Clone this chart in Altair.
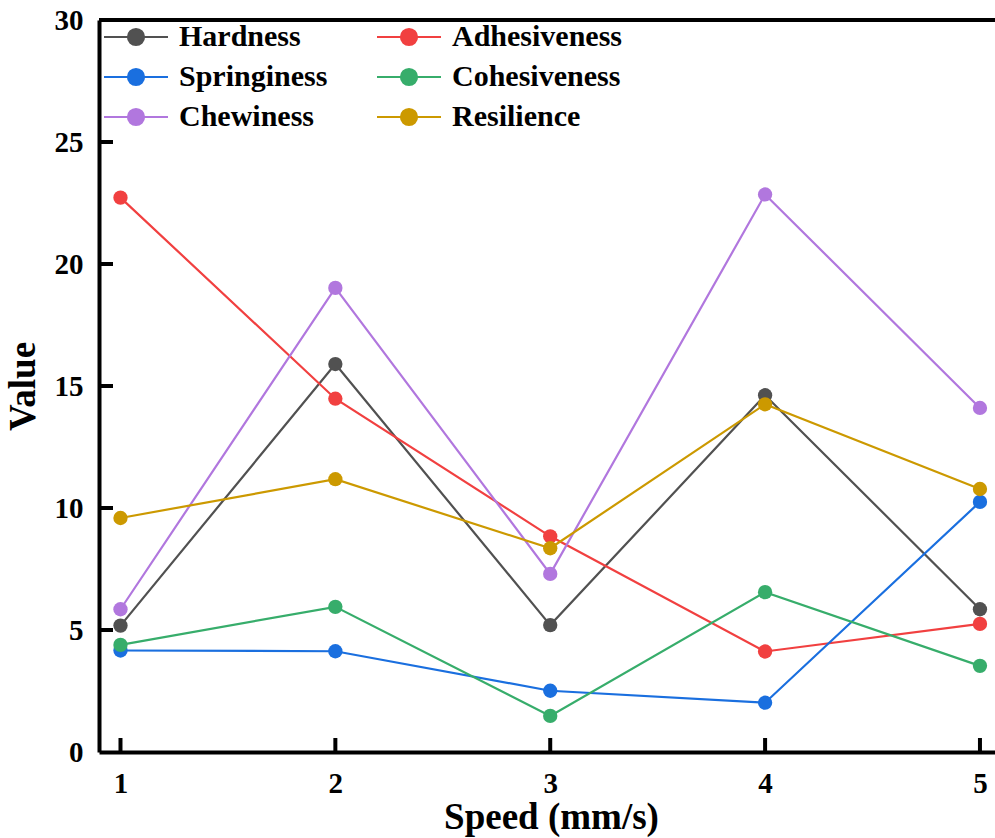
import altair as alt
import pandas as pd

speeds = [1, 2, 3, 4, 5]
series = ["Hardness", "Adhesiveness", "Springiness", "Cohesiveness", "Chewiness", "Resilience"]
colors = ["#515151", "#F14040", "#1A6FDF", "#37AD6B", "#B177DE", "#CC9900"]
# legend is filled column by column: left column first, then right column
legend_order = ["Hardness", "Springiness", "Chewiness", "Adhesiveness", "Cohesiveness", "Resilience"]

hardness = [5.18, 15.90, 5.20, 14.62, 5.85]
adhesiveness = [22.72, 14.48, 8.84, 4.12, 5.25]
springiness = [4.16, 4.13, 2.51, 2.02, 10.25]
cohesiveness = [4.39, 5.95, 1.48, 6.55, 3.53]
chewiness = [5.85, 19.02, 7.30, 22.85, 14.10]
resilience = [9.59, 11.18, 8.35, 14.25, 10.78]

y_ticks = [5, 10, 15, 20, 25]
x_ticks = [1, 2, 3, 4, 5]

values = [hardness, adhesiveness, springiness, cohesiveness, chewiness, resilience]
rows = []
for name, vals in zip(series, values):
    for s, v in zip(speeds, vals):
        rows.append({"Speed": s, "Value": v, "Series": name, "order": series.index(name)})
df = pd.DataFrame(rows)

legend_colors = [colors[series.index(n)] for n in legend_order]

FONT = "Liberation Serif"
W, H = 896, 732
XDOM = [0.9, 5.07]
YDOM = [0, 30]

xs = alt.Scale(domain=XDOM, nice=False, zero=False)
ys = alt.Scale(domain=YDOM, nice=False)
cs = alt.Scale(domain=legend_order, range=legend_colors)

legend_symbol = "M-4,0H4M-1,0A1,1 0 1,0 1,0A1,1 0 1,0 -1,0Z"

base = alt.Chart(df)
lines = base.mark_line(strokeWidth=2.2, clip=True).encode(
    x=alt.X("Speed:Q", scale=xs,
            axis=alt.Axis(values=x_ticks, title="Speed (mm/s)", ticks=False, tickSize=0,
                          domainWidth=4, domainColor="black", labelPadding=17,
                          titleX=452, titleY=76, titleBaseline="alphabetic",
                          grid=False, format="d")),
    y=alt.Y("Value:Q", scale=ys,
            axis=alt.Axis(values=[0] + y_ticks + [30], title="Value", ticks=False, tickSize=0,
                          domainWidth=4, domainColor="black", labelPadding=16,
                          titlePadding=12, grid=False)),
    color=alt.Color("Series:N", scale=cs,
                    legend=alt.Legend(orient="none", legendX=22, legendY=2, columns=2,
                                      title=None, symbolType=legend_symbol, symbolSize=256,
                                      symbolStrokeWidth=2.2, symbolFillColor=None,
                                      labelFont=FONT, labelFontWeight="bold", labelFontSize=30,
                                      labelColor="black", labelOffset=28, rowPadding=10,
                                      columnPadding=44, labelLimit=400,
                                      labelExpr="datum.label == 'Resilience' ? '\u2002Resilience' : datum.label")),
    order="order:Q",
)
points = base.mark_circle(size=205, opacity=1).encode(
    x=alt.X("Speed:Q", scale=xs),
    y=alt.Y("Value:Q", scale=ys),
    color=alt.Color("Series:N", scale=cs),
    order="order:Q",
)

ytick_df = pd.DataFrame({"v": y_ticks})
xtick_df = pd.DataFrame({"s": x_ticks})
yticks = alt.Chart(ytick_df).mark_rule(color="black", strokeWidth=4).encode(
    y=alt.Y("v:Q", scale=ys), x=alt.value(0), x2=alt.value(14))
xticks = alt.Chart(xtick_df).mark_rule(color="black", strokeWidth=4).encode(
    x=alt.X("s:Q", scale=xs), y=alt.value(H), y2=alt.value(H - 14))
top_border = alt.Chart(pd.DataFrame({"v": [30]})).mark_rule(color="black", strokeWidth=4).encode(
    y=alt.Y("v:Q", scale=ys), x=alt.value(0), x2=alt.value(W))

chart = alt.layer(lines, points, yticks, xticks, top_border).properties(
    width=W, height=H,
    autosize=alt.AutoSizeParams(type="none"),
    padding={"left": 99, "top": 20, "right": 0, "bottom": 86},
    background="white",
).configure_view(stroke=None).configure_axis(
    labelFont=FONT, labelFontWeight="bold", labelFontSize=29, labelColor="black",
    titleFont=FONT, titleFontWeight="bold", titleFontSize=37, titleColor="black",
).configure_legend(labelFont=FONT)

chart.save("out.html", embed_options={"renderer": "svg", "actions": False})
